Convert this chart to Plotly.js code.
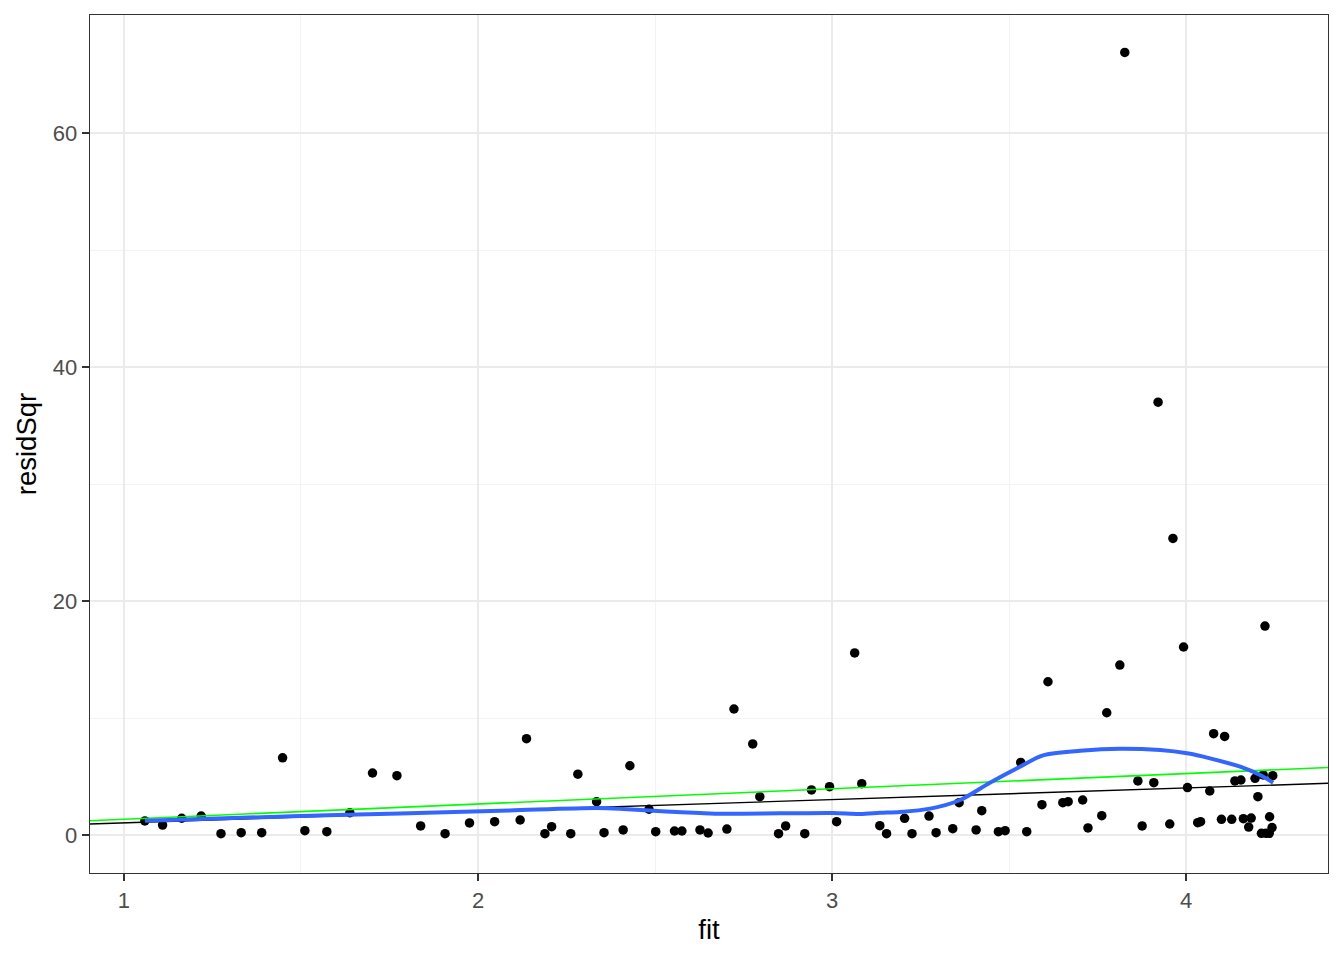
<!DOCTYPE html>
<html>
<head>
<meta charset="utf-8">
<script src="https://cdn.plot.ly/plotly-3.0.1.min.js"></script>
<style>html,body{margin:0;padding:0;background:#fff;}#chart{width:1344px;height:960px;}</style>
</head>
<body>
<div id="chart"></div>
<script>
// Scatter points: fitted value vs squared residual
const fitVals = [1.059,1.109,1.163,1.218,1.274,1.331,1.389,1.448,1.511,1.573,1.638,1.702,1.771,1.838,1.907,1.976,2.047,
  2.119,2.137,2.189,2.208,2.262,2.282,2.335,2.356,2.410,2.429,2.483,2.502,2.555,2.576,2.627,2.650,2.703,2.723,2.776,2.796,
  2.849,2.869,2.923,2.942,2.993,3.013,3.064,3.084,3.135,3.154,3.205,3.226,
  3.274,3.294,3.341,3.359,3.407,3.423,3.470,3.489,3.533,3.550,3.593,3.610,3.652,3.667,3.708,3.723,3.762,3.776,3.813,3.827,
  3.864,3.876,3.909,3.921,3.954,3.963,3.993,4.004,4.033,4.041,4.067,4.078,4.100,4.109,4.129,4.138,4.155,4.162,4.177,4.184,
  4.195,4.203,4.213,4.218,4.223,4.226,4.236,4.235,4.243,4.245];
const residSqr = [1.2,0.85,1.43,1.62,0.11,0.2,0.2,6.6,0.37,0.28,1.9,5.3,5.07,0.77,0.11,1.03,1.14,
  1.28,8.23,0.11,0.71,0.11,5.2,2.85,0.2,0.43,5.92,2.2,0.28,0.34,0.34,0.43,0.17,0.51,10.77,7.78,3.27,
  0.11,0.77,0.11,3.85,4.13,1.14,15.56,4.39,0.8,0.11,1.42,0.11,
  1.62,0.2,0.54,2.76,0.43,2.08,0.28,0.37,6.2,0.28,2.59,13.1,2.76,2.85,2.99,0.6,1.65,10.45,14.53,66.9,
  4.62,0.77,4.47,37.0,0.94,25.35,16.07,4.05,1.05,1.14,3.76,8.66,1.34,8.43,1.34,4.62,4.7,1.39,0.68,1.45,
  4.84,3.27,0.14,5.13,17.86,0.14,1.56,0.14,0.63,5.07];

// Black reference line (endpoints across the panel)
const blackLineX = [0.904, 4.401];
const blackLineY = [0.94, 4.42];
// Green reference line
const greenLineX = [0.904, 4.401];
const greenLineY = [1.22, 5.77];
// Blue smoother curve
const smoothX = [1.059,1.497,1.78,2.090,2.336,2.410,2.531,2.627,2.692,2.853,3.003,3.079,3.136,3.192,3.277,3.362,3.446,3.531,3.596,3.701,3.814,3.927,4.003,4.068,4.153,4.209,4.246];
const smoothY = [1.22,1.62,1.84,2.1,2.3,2.22,2.0,1.88,1.82,1.85,1.88,1.8,1.9,1.97,2.25,2.99,4.47,5.84,6.81,7.2,7.38,7.26,6.98,6.55,5.84,5.13,4.47];

const xTicks = [1,2,3,4];
const yTicks = [0,20,40,60];

const traces = [
  {x: fitVals, y: residSqr, type: 'scatter', mode: 'markers', marker: {color: '#000000', size: 9.5}, hoverinfo: 'x+y'},
  {x: blackLineX, y: blackLineY, type: 'scatter', mode: 'lines', line: {color: '#000000', width: 1.4}},
  {x: greenLineX, y: greenLineY, type: 'scatter', mode: 'lines', line: {color: '#00FF00', width: 1.6}},
  {x: smoothX, y: smoothY, type: 'scatter', mode: 'lines', line: {color: '#3366FF', width: 4, shape: 'spline', smoothing: 0.8}}
];

const axisCommon = {
  showline: true, mirror: true, linecolor: '#333333', linewidth: 1.3,
  ticks: 'outside', ticklen: 7, tickwidth: 1.3, tickcolor: '#333333',
  showgrid: true, gridcolor: '#EBEBEB', gridwidth: 1.6,
  zeroline: false,
  tickfont: {family: 'Liberation Sans, Arial, sans-serif', size: 22, color: '#4D4D4D'}
};

const layout = {
  width: 1344, height: 960,
  margin: {l: 90, r: 16, t: 15, b: 87},
  paper_bgcolor: '#FFFFFF', plot_bgcolor: '#FFFFFF',
  showlegend: false,
  xaxis: Object.assign({}, axisCommon, {
    range: [0.904, 4.401], tickvals: xTicks, ticktext: xTicks.map(String),
    minor: {tickvals: [1.5, 2.5, 3.5], showgrid: true, gridcolor: '#F2F2F2', gridwidth: 0.9, ticks: ''},
    title: {text: 'fit', font: {family: 'Liberation Sans, Arial, sans-serif', size: 27.5, color: '#000000'}, standoff: 8}
  }),
  yaxis: Object.assign({}, axisCommon, {
    range: [-3.25, 70.1], tickvals: yTicks, ticktext: yTicks.map(String),
    minor: {tickvals: [10, 30, 50], showgrid: true, gridcolor: '#F2F2F2', gridwidth: 0.9, ticks: ''},
    title: {text: 'residSqr', font: {family: 'Liberation Sans, Arial, sans-serif', size: 27.5, color: '#000000'}, standoff: 8}
  })
};

Plotly.newPlot('chart', traces, layout, {displayModeBar: false, staticPlot: true});
</script>
</body>
</html>
